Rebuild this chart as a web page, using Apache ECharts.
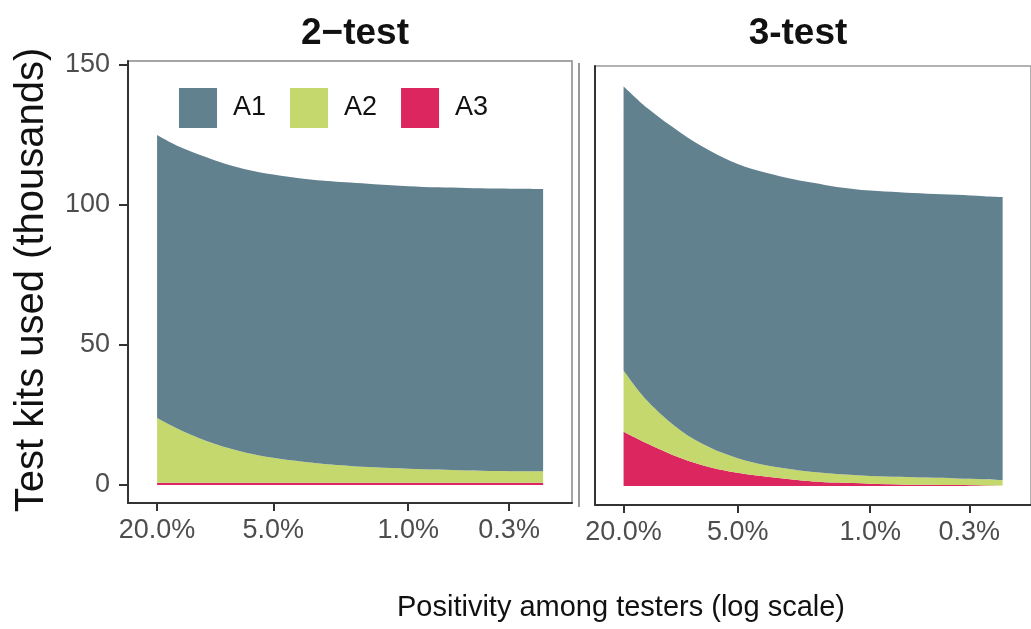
<!DOCTYPE html>
<html>
<head>
<meta charset="utf-8">
<script src="https://cdn.jsdelivr.net/npm/echarts@6/dist/echarts.min.js"></script>
<style>
  html, body { margin: 0; padding: 0; background: #fff; }
  #chart { width: 1031px; height: 629px; }
</style>
</head>
<body>
<div id="chart"></div>
<script>
// positivity among testers (%), shared by both panels
const positivity = [20, 15, 10, 7, 5, 3.5, 2.5, 2, 1.5, 1, 0.7, 0.5, 0.35, 0.25, 0.2];
const xTicks = [20, 5, 1, 0.3];
const yTicks = [0, 50, 100, 150];
const seriesNames = ["A1", "A2", "A3"];
const panelTitles = ["2\u2212test", "3-test"];

// 2-test panel (thousands of kits)
const twoA1 = [101.1, 101.0, 101.3, 101.2, 101.2, 101.1, 101.2, 101.2, 101.1, 100.9, 100.8, 100.9, 100.9, 100.9, 100.8];
const twoA2 = [23.1, 18.7, 13.8, 10.8, 8.9, 7.5, 6.5, 6.0, 5.5, 5.0, 4.7, 4.4, 4.2, 4.1, 4.1];
const twoA3 = [0.8, 0.8, 0.8, 0.8, 0.8, 0.8, 0.8, 0.8, 0.8, 0.8, 0.8, 0.8, 0.8, 0.8, 0.8];

// 3-test panel
const threeA1 = [101.6, 104.6, 106.4, 106.0, 105.1, 104.5, 103.7, 103.3, 102.5, 101.9, 101.6, 101.4, 101.3, 101.1, 101.1];
const threeA2 = [21.8, 15.2, 9.8, 7.0, 5.2, 4.0, 3.6, 3.4, 3.1, 2.8, 2.75, 2.6, 2.4, 2.2, 1.95];
const threeA3 = [19.4, 15.2, 10.0, 6.7, 4.7, 3.3, 2.2, 1.6, 1.2, 0.8, 0.55, 0.4, 0.3, 0.2, 0.15];

const colors = { A1: "#62818f", A2: "#c5d86d", A3: "#dc2660" };
const font = "'Liberation Sans', Arial, sans-serif";
const tickColor = "#4d4d4d";

var chart = echarts.init(document.getElementById("chart"));

// value first so that the stack runs on y, not on the log x axis
function pairs(vals) {
  return positivity.map(function (p, i) {
    return [vals[i], p];
  });
}

function makeSeries(name, vals, idx) {
  return {
    name: name,
    type: "line",
    xAxisIndex: idx,
    yAxisIndex: idx,
    stack: "panel" + idx,
    encode: { x: 1, y: 0 },
    smooth: 0.35,
    showSymbol: false,
    symbol: "none",
    lineStyle: { width: 0 },
    itemStyle: { color: colors[name] },
    areaStyle: { color: colors[name], opacity: 1 },
    data: pairs(vals),
    silent: true,
  };
}

function xAxisOpt(idx) {
  return {
    type: "log",
    gridIndex: idx,
    logBase: 10,
    inverse: true,
    min: 0.1417,
    max: 28.3,
    splitLine: { show: false },
    minorTick: { show: false },
    axisLine: { show: true, onZero: false, lineStyle: { color: "#333", width: 2 } },
    axisTick: { show: true, length: 8, customValues: xTicks, lineStyle: { color: "#333", width: 2 } },
    axisLabel: {
      customValues: xTicks,
      color: tickColor,
      fontSize: 27,
      fontFamily: font,
      margin: 14,
      formatter: function (v) {
        return Number(v).toFixed(1) + "%";
      },
    },
  };
}

function yAxisOpt(idx, min, max, showLabels) {
  return {
    type: "value",
    gridIndex: idx,
    min: min,
    max: max,
    splitLine: { show: false },
    axisLine: { show: true, onZero: false, lineStyle: { color: "#333", width: 2 } },
    axisTick: { show: showLabels, length: 9, customValues: yTicks, lineStyle: { color: "#333", width: 2 } },
    axisLabel: {
      show: showLabels,
      customValues: yTicks,
      color: tickColor,
      fontSize: 27,
      fontFamily: font,
      margin: 18,
    },
  };
}

var option = {
  animation: false,
  backgroundColor: "#fff",
  title: [
    {
      text: panelTitles[0],
      left: 350,
      top: 10,
      textAlign: "center",
      textStyle: { fontSize: 37, fontWeight: "bold", color: "#111", fontFamily: font },
    },
    {
      text: panelTitles[1],
      left: 793,
      top: 10,
      textAlign: "center",
      textStyle: { fontSize: 37, fontWeight: "bold", color: "#111", fontFamily: font },
    },
  ],
  legend: {
    data: seriesNames,
    left: 174,
    top: 83,
    itemWidth: 38,
    itemHeight: 40,
    itemGap: 24,
    icon: "rect",
    selectedMode: false,
    textStyle: { fontSize: 27, color: "#111", fontFamily: font, padding: [0, 0, 0, 11] },
  },
  grid: [
    { left: 128, top: 61, width: 444, height: 442, show: true, borderColor: "#888", borderWidth: 1.5 },
    { left: 595, top: 66, width: 444, height: 439, show: true, borderColor: "#999", borderWidth: 1.5 },
  ],
  xAxis: [xAxisOpt(0), xAxisOpt(1)],
  yAxis: [yAxisOpt(0, -6.43, 151.43, true), yAxisOpt(1, -6.8, 150, false)],
  series: [
    makeSeries("A3", twoA3, 0),
    makeSeries("A2", twoA2, 0),
    makeSeries("A1", twoA1, 0),
    makeSeries("A3", threeA3, 1),
    makeSeries("A2", threeA2, 1),
    makeSeries("A1", threeA1, 1),
  ],
  graphic: [
    {
      type: "line",
      shape: { x1: 579, y1: 63, x2: 579, y2: 507 },
      style: { stroke: "#777", lineWidth: 1.5 },
    },
    {
      type: "text",
      x: 32,
      y: 280,
      rotation: Math.PI / 2,
      style: {
        text: "Test kits used (thousands)",
        font: "40px " + font,
        fill: "#111",
        textAlign: "center",
        textVerticalAlign: "middle",
      },
    },
    {
      type: "text",
      x: 621,
      y: 608,
      style: {
        text: "Positivity among testers (log scale)",
        font: "29px " + font,
        fill: "#111",
        textAlign: "center",
        textVerticalAlign: "middle",
      },
    },
  ],
};

chart.setOption(option);
</script>
</body>
</html>
